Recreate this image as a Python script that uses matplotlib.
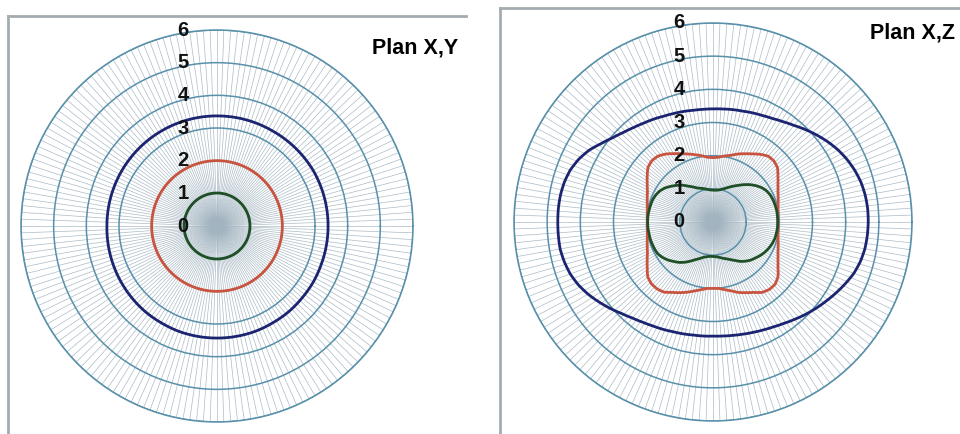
import numpy as np
import matplotlib
matplotlib.use("Agg")
import matplotlib.pyplot as plt
from matplotlib.path import Path
from matplotlib.patches import PathPatch
from matplotlib.transforms import offset_copy

# angles in degrees, counter-clockwise from the +X direction
angles_xy = list(range(0, 360, 10))
angles_xz = list(range(0, 360, 5))

# Plan X,Y : three nearly circular lobes
xy_blue = [3.40, 3.40, 3.40, 3.40, 3.39, 3.38, 3.37, 3.37, 3.37, 3.37, 3.37, 3.37,
           3.37, 3.37, 3.37, 3.37, 3.37, 3.37, 3.37, 3.38, 3.39, 3.40, 3.41, 3.42,
           3.42, 3.43, 3.43, 3.43, 3.43, 3.43, 3.42, 3.42, 3.41, 3.41, 3.40, 3.40]
xy_red = [2.00, 2.00, 2.00, 2.00, 2.00, 2.00, 2.00, 2.00, 2.00, 2.00, 2.00, 2.00,
          2.00, 2.00, 2.00, 2.00, 2.00, 2.00, 2.00, 2.00, 2.00, 2.00, 2.00, 2.00,
          2.00, 2.00, 2.00, 2.00, 2.00, 2.00, 2.00, 2.00, 2.00, 2.00, 2.00, 2.00]
xy_green = [1.01, 1.01, 1.01, 1.01, 1.01, 1.01, 1.01, 1.01, 1.01, 1.01, 1.01, 1.01,
            1.01, 1.01, 1.01, 1.01, 1.01, 1.01, 1.01, 1.01, 1.01, 1.01, 1.01, 1.01,
            1.01, 1.01, 1.01, 1.01, 1.01, 1.01, 1.01, 1.01, 1.01, 1.01, 1.01, 1.01]

# Plan X,Z
xz_blue = [4.68, 4.68, 4.66, 4.62, 4.55, 4.46, 4.35, 4.22, 4.08, 3.94, 3.80, 3.69,
           3.60, 3.54, 3.50, 3.46, 3.44, 3.42, 3.41, 3.41, 3.42, 3.45, 3.48, 3.52,
           3.58, 3.64, 3.72, 3.82, 3.95, 4.12, 4.32, 4.47, 4.58, 4.64, 4.67, 4.68,
           4.68, 4.68, 4.68, 4.64, 4.58, 4.48, 4.35, 4.20, 4.05, 3.90, 3.78, 3.69,
           3.62, 3.57, 3.52, 3.49, 3.46, 3.45, 3.44, 3.45, 3.47, 3.50, 3.54, 3.59,
           3.65, 3.73, 3.83, 3.94, 4.05, 4.16, 4.28, 4.40, 4.52, 4.60, 4.65, 4.67]
xz_red = [1.96, 1.97, 1.99, 2.03, 2.09, 2.16, 2.26, 2.39, 2.54, 2.60, 2.59, 2.49,
          2.37, 2.27, 2.18, 2.08, 2.02, 1.96, 1.94, 1.96, 2.03, 2.10, 2.18, 2.27,
          2.38, 2.50, 2.59, 2.61, 2.56, 2.42, 2.29, 2.18, 2.11, 2.05, 2.01, 1.99,
          1.98, 1.99, 2.01, 2.05, 2.11, 2.18, 2.29, 2.42, 2.57, 2.63, 2.63, 2.58,
          2.45, 2.35, 2.25, 2.15, 2.07, 2.01, 2.00, 2.01, 2.07, 2.15, 2.26, 2.35,
          2.45, 2.59, 2.65, 2.65, 2.56, 2.39, 2.26, 2.16, 2.09, 2.03, 1.99, 1.97]
xz_green = [1.95, 1.95, 1.95, 1.94, 1.93, 1.91, 1.87, 1.80, 1.70, 1.59, 1.47, 1.35,
            1.25, 1.16, 1.08, 1.02, 0.98, 0.96, 0.96, 0.97, 1.00, 1.04, 1.08, 1.13,
            1.22, 1.32, 1.45, 1.56, 1.67, 1.78, 1.86, 1.91, 1.94, 1.95, 1.96, 1.97,
            1.97, 1.97, 1.96, 1.96, 1.95, 1.94, 1.92, 1.86, 1.78, 1.68, 1.59, 1.48,
            1.36, 1.25, 1.17, 1.10, 1.06, 1.04, 1.04, 1.05, 1.08, 1.13, 1.18, 1.25,
            1.34, 1.45, 1.54, 1.62, 1.68, 1.75, 1.81, 1.86, 1.90, 1.93, 1.94, 1.95]

ring_values = [0, 1, 2, 3, 4, 5, 6]

BLUE = "#1b2470"
RED = "#c8533f"
GREEN = "#1f4f27"
RING = "#5890aa"
SPOKE = "#a2b4c0"


def closed(angles, values):
    th = np.deg2rad(list(angles) + [angles[0] + 360])
    return th, list(values) + [values[0]]


def frame(fig, rect):
    bg = fig.add_axes(rect)
    bg.set_xticks([])
    bg.set_yticks([])
    bg.patch.set_alpha(0)
    for side in ("right", "bottom"):
        bg.spines[side].set_visible(False)
    for side in ("top", "left"):
        bg.spines[side].set_color("#a3adb1")
        bg.spines[side].set_linewidth(2)


def radar(fig, rect, curves):
    ax = fig.add_axes(rect, projection="polar")
    ax.set_ylim(0, 6)
    ax.set_xticks(np.deg2rad(np.arange(0, 360, 2)))
    ax.set_xticklabels([])
    ax.set_yticks(ring_values[1:])
    ax.set_yticklabels([])
    ax.tick_params(length=0)
    ax.xaxis.grid(True, color=SPOKE, linewidth=0.5, alpha=0.9)
    ax.yaxis.grid(True, color=RING, linewidth=1.1)
    ax.spines["polar"].set_color(RING)
    ax.spines["polar"].set_linewidth(1.1)
    ax.patch.set_alpha(0)
    for angles, values, color in curves:
        th, r = closed(angles, values)
        # segments are followed in (theta, r), so equal radii give true arcs
        path = Path(np.column_stack([th, r]), _interpolation_steps=12)
        ax.add_patch(PathPatch(path, fill=False, edgecolor=color,
                               linewidth=2.0, joinstyle="round", zorder=5))
    shift = offset_copy(ax.transData, fig=fig, x=-34, y=0, units="dots")
    for k in ring_values:
        ax.text(np.pi / 2, k, str(k), transform=shift, ha="center", va="center",
                fontsize=14.5, fontweight="bold", family="Liberation Sans",
                color="#111111", zorder=6)
    return ax


fig = plt.figure(figsize=(9.6, 4.34), dpi=100)
W, H = 960.0, 434.0

frame(fig, [8 / W, 0, 458 / W, (434 - 16) / H])
frame(fig, [500 / W, 0, 470 / W, (434 - 8) / H])

radar(fig, [21 / W, (434 - 422) / H, 392 / W, 392 / H],
      [(angles_xy, xy_blue, BLUE), (angles_xy, xy_red, RED),
       (angles_xy, xy_green, GREEN)])
radar(fig, [514 / W, (434 - 421) / H, 398 / W, 398 / H],
      [(angles_xz, xz_blue, BLUE), (angles_xz, xz_red, RED),
       (angles_xz, xz_green, GREEN)])

fig.text(372 / W, 1 - 48 / H, "Plan X,Y", ha="left", va="center",
         fontsize=15.5, fontweight="bold", family="Liberation Sans")
fig.text(870 / W, 1 - 33 / H, "Plan X,Z", ha="left", va="center",
         fontsize=15.5, fontweight="bold", family="Liberation Sans")

fig.savefig("out.png", dpi=100)
